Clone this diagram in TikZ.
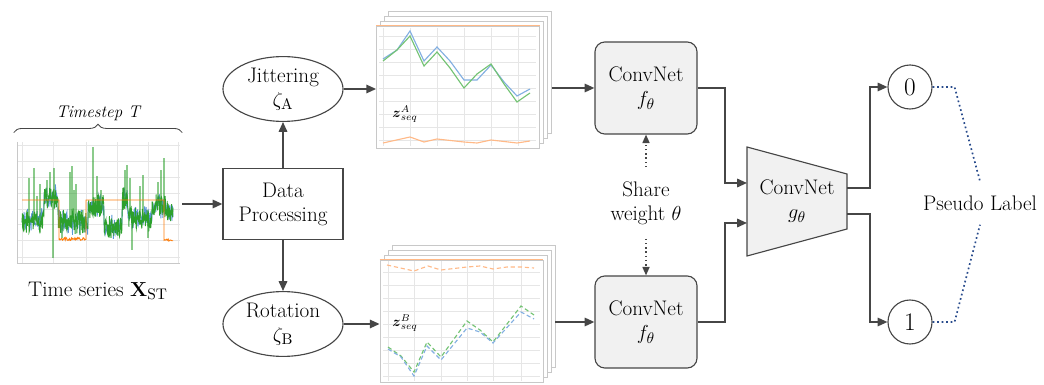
\documentclass[tikz,border=0pt]{standalone}
\usepackage{amsmath,amssymb}
\usetikzlibrary{arrows.meta,positioning,shapes.geometric,decorations.pathreplacing}
\definecolor{linegray}{RGB}{70,70,70}
\definecolor{boxgray}{RGB}{241,241,241}
\definecolor{gridgray}{RGB}{230,230,230}
\definecolor{sheetgray}{RGB}{200,200,200}
\definecolor{tsgreen}{RGB}{44,160,44}
\definecolor{tsblue}{RGB}{90,150,215}
\definecolor{tsorange}{RGB}{255,127,14}
\definecolor{zgreen}{RGB}{115,195,115}
\definecolor{zblue}{RGB}{130,175,225}
\definecolor{zorange}{RGB}{255,185,135}
\definecolor{pseudoblue}{RGB}{40,75,140}
\newcommand{\zseq}[1]{$\boldsymbol{z}^{#1}_{seq}$}

% regime level of the raw series
\pgfmathdeclarefunction{tslevel}{1}{%
  \pgfmathparse{ifthenelse(#1<44,220,ifthenelse(#1<58,197,ifthenelse(#1<88,222,ifthenelse(#1<104,206,ifthenelse(#1<122,228,ifthenelse(#1<128,200,ifthenelse(#1<152,218,ifthenelse(#1<166,206,212))))))))}%
}

\begin{document}
\begin{tikzpicture}[x=0.025cm,y=-0.025cm,
    font=\fontsize{15}{17}\selectfont,
    flow/.style={draw=linegray,line width=1.3pt,-{Triangle[length=7pt,width=6pt]}},
    shared/.style={draw=linegray,line width=1pt,dotted,-{Triangle[length=6pt,width=5pt]}},
    pseudo/.style={draw=pseudoblue,line width=1.2pt,dotted},
    procbox/.style={draw=linegray,line width=0.8pt,fill=white,align=center,minimum width=3cm,minimum height=1.78cm},
    augment/.style={ellipse,draw=linegray,line width=0.8pt,align=center,minimum width=3cm,minimum height=1.62cm,inner sep=0pt},
    encoder/.style={draw=linegray,line width=0.8pt,fill=boxgray,rounded corners=7pt,align=center,minimum width=2.55cm,minimum height=2.3cm},
    pseudonode/.style={circle,draw=linegray,line width=0.8pt,minimum size=1.1cm,inner sep=0pt,font=\fontsize{18}{20}\selectfont},
    sheet/.style={draw=sheetgray,line width=0.5pt,fill=white,minimum width=4.075cm,minimum height=3.05cm,inner sep=0pt},
    gridline/.style={draw=gridgray,line width=0.4pt},
    seqtag/.style={font=\fontsize{10}{12}\selectfont}]
  \useasboundingbox (0,0) rectangle (1044,385);

  % raw series
  \node[minimum width=4.2cm,minimum height=3.2cm] (ts) at (98,204) {};
  \foreach \gx in {22,53,86,117,148,178}
    \draw[gridline] (\gx,142) -- (\gx,263);
  \foreach \gy in {145,161,177,193,209,224,240,257}
    \draw[gridline] (17,\gy) -- (180,\gy);
  \draw[sheetgray,line width=0.4pt] (17,142) -- (17,263) -- (180,263);
  \pgfmathsetseed{42}
  \draw[tsblue,line width=0.6pt] plot[domain=22:173,samples=300] (\x,{tslevel(\x)+9*rand+5*rand});
  \draw[tsgreen,line width=0.6pt] plot[domain=22:173,samples=450] (\x,{tslevel(\x)+9*rand+5*rand});
  \foreach \sx/\sy in {29/178,34/168,37/196,40/184,47/180,50/172,53/258,54/168,62/238,70/172,72/166,74/190,76/184,80/235,93/147,97/176,101/190,111/238,125/170,127/165,130/178,132/250,140/186,143/175,148/238,158/182,161/170,164/158}
    \draw[tsgreen,line width=0.8pt,opacity=0.55] (\sx,{tslevel(\sx)}) -- (\sx,\sy);
  \draw[tsorange,line width=0.7pt] (22,200) -- (59,200) -- (59,240)
    -- plot[domain=59:86,samples=40] (\x,{239+1.5*rand}) -- (86,200) -- (164,200) -- (164,240)
    -- plot[domain=164:173,samples=12] (\x,{240+1.2*rand});
  \draw[linegray,line width=0.6pt,decorate,decoration={brace,amplitude=6pt}]
    ([yshift=5pt]ts.north west) -- ([yshift=5pt]ts.north east);
  \node[font=\fontsize{12}{14}\selectfont\itshape] (step) at (98,113) {Timestep T};
  \node[below=6pt of ts] (tsname) {Time series $\mathbf{X}_{\mathrm{ST}}$};

  \node[procbox] (dp) at (283,204) {Data\\Processing};
  \node[augment] (jit) at (283,89) {Jittering\\$\zeta_{\mathrm{A}}$};
  \node[augment] (rot) at (283,324) {Rotation\\$\zeta_{\mathrm{B}}$};

  % augmented views A
  \foreach \k in {3,2,1}
    \node[sheet] (zA\k) at ({458+4*\k},{87-5*\k}) {};
  \node[sheet] (zA) at (458,87) {};
  \draw[zorange,line width=0.6pt] (zA.north west) -- (zA.north east);
  \foreach \gx in {383,410,437,464,491,518}
    \draw[gridline] (\gx,28) -- (\gx,146);
  \foreach \gy in {36,49,62,75,88,101,114,127,140}
    \draw[gridline] (379,\gy) -- (536,\gy);
  \draw[zblue,line width=0.8pt] plot coordinates {(383,59) (397,50) (410,31) (424,61) (437,47) (450,61) (464,80) (477,80) (491,65) (504,82) (517,96) (530,89)};
  \draw[zgreen,line width=0.8pt] plot coordinates {(383,61) (397,50) (410,36) (424,66) (437,52) (450,68) (464,88) (477,74) (491,64) (504,84) (517,102) (530,93)};
  \draw[zorange,line width=0.8pt] plot coordinates {(383,143) (410,137) (424,142) (437,139) (464,142) (477,143) (491,140) (517,143) (530,141)};
  \node[seqtag] (zAtag) at (405,114) {\zseq{A}};

  % augmented views B
  \foreach \k in {3,2,1}
    \node[sheet] (zB\k) at ({461.5+4*\k},{321-5*\k}) {};
  \node[sheet] (zB) at (461.5,321) {};
  \draw[zorange,line width=0.6pt] (zB.north west) -- (zB.north east);
  \foreach \gx in {388,414,441,467,493,521}
    \draw[gridline] (\gx,261) -- (\gx,381);
  \foreach \gy in {272,285,298,311,324,337,350,363,376}
    \draw[gridline] (383,\gy) -- (540,\gy);
  \draw[zorange,line width=0.8pt,densely dashed] plot coordinates {(387,265) (414,271) (428,266) (441,270) (467,267) (480,266) (493,269) (507,267) (521,267) (534,268)};
  \draw[zgreen,line width=0.8pt,densely dashed] plot coordinates {(388,347) (401,356) (414,372) (427,342) (441,357) (467,321) (480,330) (493,342) (521,306) (534,315)};
  \draw[zblue,line width=0.8pt,densely dashed] plot coordinates {(388,349) (401,357) (414,376) (427,346) (441,360) (467,328) (480,332) (493,343) (521,312) (534,319)};
  \node[seqtag] (zBtag) at (405,323) {\zseq{B}};

  \draw[flow] (ts.east |- dp.west) -- (dp.west);
  \draw[flow] (dp.north) -- (jit.south);
  \draw[flow] (dp.south) -- (rot.north);
  \draw[flow] (jit.east) -- (jit.east -| zA.west);
  \draw[flow] (rot.east) -- (rot.east -| zB.west);

  \node[encoder] (fA) at (646,88) {ConvNet\\$f_\theta$};
  \node[encoder] (fB) at (646,322) {ConvNet\\$f_\theta$};
  \draw[flow] (zA3.east |- fA.west) -- (fA.west);
  \draw[flow] (zB3.east |- fB.west) -- (fB.west);

  \node[align=center,inner ysep=10pt] (share) at (646,203) {Share\\weight $\theta$};
  \draw[shared] (share.north) -- (fA.south);
  \draw[shared] (share.south) -- (fB.north);

  % projection head
  \draw[linegray,line width=0.8pt,fill=boxgray] (747,147) -- (847,174) -- (847,229) -- (747,256) -- cycle;
  \node[align=center] (g) at (797,201) {ConvNet\\$g_\theta$};
  \coordinate (gin1) at (747,183);
  \coordinate (gin2) at (747,223);
  \coordinate (gout1) at (847,188);
  \coordinate (gout2) at (847,214);
  \draw[flow] (fA.east) -- ++(27,0) |- (gin1);
  \draw[flow] (fB.east) -- ++(27,0) |- (gin2);

  \node[pseudonode] (c0) at (910,87) {0};
  \node[pseudonode] (c1) at (910,322) {1};
  \draw[flow] (gout1) -- ++(23,0) |- (c0.west);
  \draw[flow] (gout2) -- ++(23,0) |- (c1.west);
  \node[inner ysep=10pt] (pl) at (980,203) {Pseudo Label};
  \draw[pseudo] (c0.east) -- ++(22,0) -- (pl.north);
  \draw[pseudo] (c1.east) -- ++(22,0) -- (pl.south);
\end{tikzpicture}
\end{document}
